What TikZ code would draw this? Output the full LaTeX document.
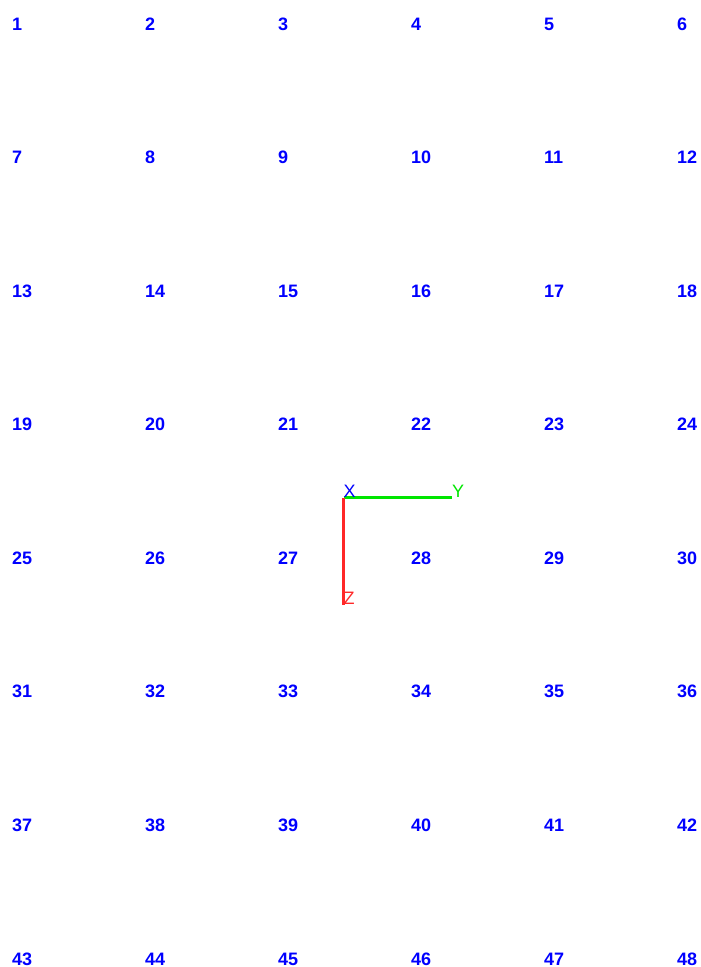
\documentclass[tikz,border=0pt]{standalone}
\usepackage{fontspec}
\setmainfont{Liberation Sans}
\usepackage{tikz}

\definecolor{axisgreen}{RGB}{0,230,0}
\definecolor{axisred}{RGB}{255,40,40}

\tikzset{
  numlabel/.style={anchor=base west, inner sep=0pt, text=blue, font=\fontsize{18}{18}\selectfont\bfseries},
  axislabel/.style={anchor=south west, inner sep=0pt, font=\fontsize{18}{18}\selectfont}
}

\begin{document}
\begin{tikzpicture}[x=1pt, y=-1pt]
        \useasboundingbox (0,0) rectangle (701,967);

        % numbered points, 6 per row
        \foreach \r in {0,...,7} {
          \foreach \c in {0,...,5} {
            \pgfmathtruncatemacro{\idx}{6*\r + \c + 1}
            \node[numlabel] (n\idx) at ({12 + 133*\c}, {30 + 133.57*\r}) {\idx};
          }
        }

        % axis triad
        \coordinate (origin) at (343.5, 497.5);
        \coordinate (yend) at (452, 497.5);
        \coordinate (zend) at (343.5, 605);

        \draw[axisgreen, line width=2.5pt] (origin) -- (yend);
        \draw[axisred, line width=2.5pt] (origin) -- (zend);

        \node[axislabel, text=blue] (xlab) at (origin) {X};
        \node[axislabel, text=axisgreen] (ylab) at (yend) {Y};
        \node[axislabel, text=axisred] (zlab) at (zend) {Z};
      \end{tikzpicture}
\end{document}
